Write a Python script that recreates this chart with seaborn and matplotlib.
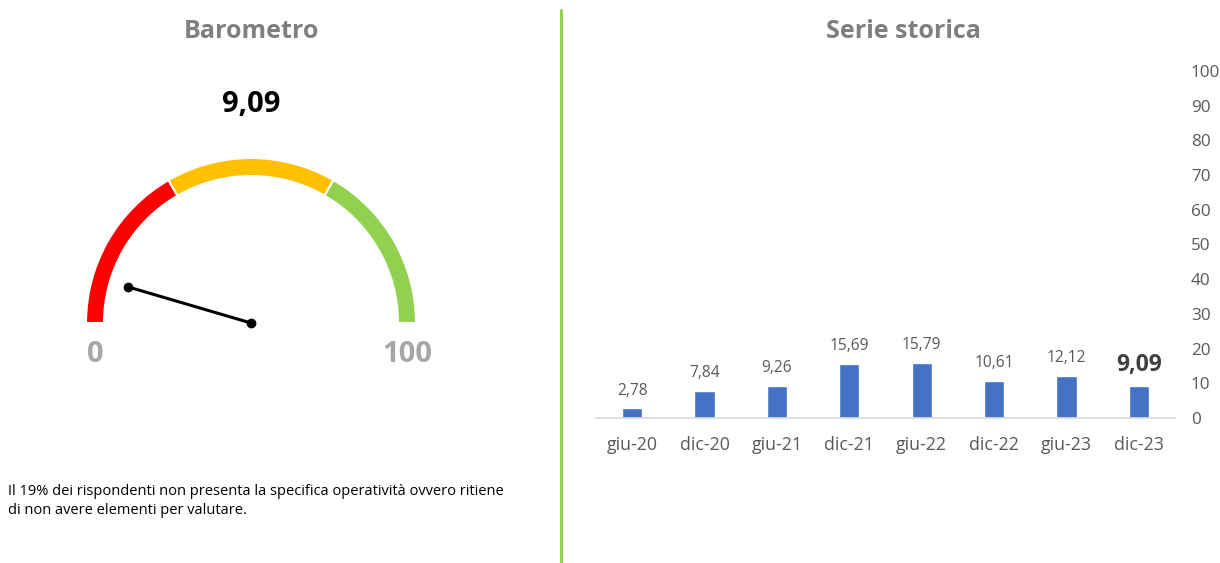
import matplotlib
matplotlib.use("Agg")
import matplotlib.pyplot as plt
import seaborn as sns
import pandas as pd
import numpy as np
from matplotlib.patches import Wedge
from matplotlib.lines import Line2D

# data
periods = ["giu-20", "dic-20", "giu-21", "dic-21", "giu-22", "dic-22", "giu-23", "dic-23"]
values = [2.78, 7.84, 9.26, 15.69, 15.79, 10.61, 12.12, 9.09]
gauge_value = 9.09
band_edges = [0, 33.33, 66.67, 100]
band_colors = ["#ff0000", "#ffc000", "#92d050"]
note = ("Il 19% dei rispondenti non presenta la specifica operatività ovvero ritiene\n"
        "di non avere elementi per valutare.")

sns.set_theme(style="white")
plt.rcParams["font.family"] = ["Open Sans", "DejaVu Sans"]

W, H = 1220, 563
fig = plt.figure(figsize=(W / 100, H / 100), dpi=100)

# titles
fig.text(251 / W, 1 - 31 / H, "Barometro", ha="center", va="center",
         fontsize=18, fontweight="bold", color="#7f7f7f")
fig.text(903 / W, 1 - 31 / H, "Serie storica", ha="center", va="center",
         fontsize=18, fontweight="bold", color="#7f7f7f")

# divider
fig.add_artist(Line2D([561 / W, 561 / W], [0, 1 - 10 / H], transform=fig.transFigure,
                      color="#92d050", linewidth=2.2))

# gauge, axes in pixel units with the dial centre at the origin
ax_g = fig.add_axes([0, 0, 560 / W, 1])
ax_g.set_xlim(-251, 560 - 251)
ax_g.set_ylim(-(H - 323), 323)
ax_g.axis("off")

r_out, thick = 165, 18
for lo, hi, c in zip(band_edges[:-1], band_edges[1:], band_colors):
    ax_g.add_patch(Wedge((0, 0), r_out, 180 - hi * 1.8, 180 - lo * 1.8, width=thick,
                         facecolor=c, edgecolor="white", linewidth=1.5))

ang = np.deg2rad(180 - gauge_value * 1.8)
L = 128
ax_g.plot([0, L * np.cos(ang)], [0, L * np.sin(ang)], color="black", linewidth=2.2,
          marker="o", markersize=6, solid_capstyle="round")

ax_g.text(0, 323 - 104, f"{gauge_value:.2f}".replace(".", ","), ha="center", va="center",
          fontsize=21, fontweight="bold", color="black")
ax_g.text(-156, 323 - 354, "0", ha="center", va="center", fontsize=21,
          fontweight="bold", color="#a6a6a6")
ax_g.text(156, 323 - 354, "100", ha="center", va="center", fontsize=21,
          fontweight="bold", color="#a6a6a6")

fig.text(8 / W, 1 - 501 / H, note, ha="left", va="center", fontsize=10.5,
         color="black", linespacing=1.45)

# bar chart
ax = fig.add_axes([596 / W, (H - 418) / H, (1175 - 596) / W, (418 - 71) / H])
df = pd.DataFrame({"periodo": periods, "valore": values})
sns.barplot(data=df, x="periodo", y="valore", color="#4472c4", width=0.28,
            saturation=1, ax=ax)
ax.set_ylim(0, 100)
ax.set_yticks(range(0, 101, 10))
ax.yaxis.tick_right()
ax.tick_params(axis="y", length=0, pad=11.5, labelsize=12.3, labelcolor="#595959")
ax.tick_params(axis="x", length=0, pad=13, labelsize=12.8, labelcolor="#595959")
ax.set_xlabel("")
ax.set_ylabel("")
for s in ["top", "right", "left"]:
    ax.spines[s].set_visible(False)
ax.spines["bottom"].set_color("#d9d9d9")
ax.spines["bottom"].set_linewidth(1.2)

for i, v in enumerate(values):
    last = i == len(values) - 1
    ax.annotate(f"{v:.2f}".replace(".", ","), (i, v), xytext=(0, 7),
                textcoords="offset points", ha="center", va="bottom",
                fontsize=16.5 if last else 11.2,
                fontweight="bold" if last else "normal",
                color="#404040" if last else "#595959")

fig.savefig("out.png", dpi=100)
